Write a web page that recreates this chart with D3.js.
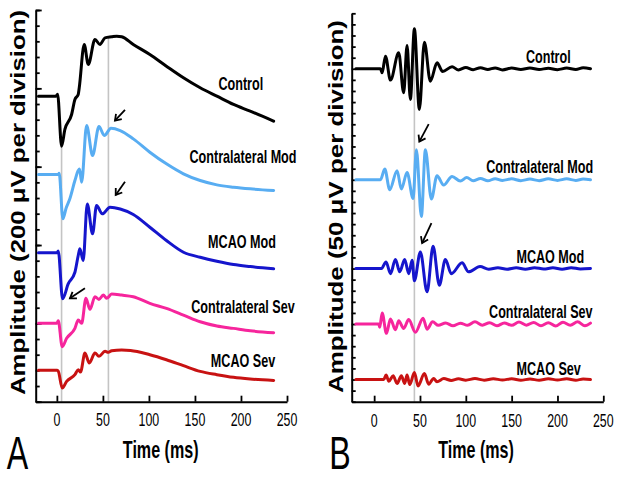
<!DOCTYPE html>
<html><head><meta charset="utf-8">
<script src="https://cdn.jsdelivr.net/npm/d3@7"></script>
<style>body{margin:0;background:#fff}svg{display:block}</style>
</head><body>
<svg id="chart" width="623" height="478"></svg>
<script>
// ---------------- DATA ----------------
const seriesNames = ["Control", "Contralateral Mod", "MCAO Mod", "Contralateral Sev", "MCAO Sev"];
const xTickValues = [0, 50, 100, 150, 200, 250];

// Panel A (µV, 200 µV per division), baseline offsets of each trace
const offsetsA = [3900, 2900, 1900, 1000, 400];
const tA_control = [-20, -1, 0.8, 5.1, 8.7, 16, 19.6, 23.2, 24.3, 29.7, 34.1, 41.4, 46.8, 52.3, 59.5, 65, 70.4, 83, 101, 119, 137.5, 155.7, 173.8, 191.9, 210, 235.5];
const vA_control = [0, 0, 25, -638, -425, -234, -42, 22, 107, 660, 405, 724, 660, 745, 758, 766, 758, 660, 532, 383, 235, 107, 0, -106, -191, -319];
const tA_contraMod = [-20, 1.4, 2.5, 6.5, 10, 14.1, 19.6, 23.2, 24.6, 26.9, 32.3, 38.8, 45.7, 51.5, 58.8, 68.8, 83, 101, 119, 137.5, 155.7, 173.8, 191.9, 210, 235.5];
const vA_contraMod = [0, 0, 15, -565, -430, -310, -77, 51, 70, -98, 625, 242, 612, 498, 591, 561, 455, 285, 136, 9, -77, -132, -162, -183, -204];
const tA_mcaoMod = [-20, 0.3, 1.5, 6.2, 12.3, 19.6, 23.2, 25, 28.6, 33, 38.8, 43.1, 49.3, 57.7, 68.8, 83, 101, 119, 137.5, 155.7, 173.8, 191.9, 210, 235.5];
const vA_mcaoMod = [0, 0, 25, -587, -396, -248, -34, 51, -98, 625, 243, 604, 498, 582, 560, 490, 327, 157, 8, -56, -107, -149, -175, -204];
const tA_contraSev = [-20, 0, 1.5, 5.8, 10.6, 19.6, 23.2, 26.9, 31.6, 35.9, 41.4, 45.7, 50.4, 54.1, 59.5, 70.4, 83, 101, 119, 137.5, 155.7, 173.8, 191.9, 210, 235.5];
const vA_contraSev = [0, 0, 34, -298, -191, -64, 42, 0, 319, 179, 340, 306, 361, 319, 374, 361, 340, 255, 191, 106, 20, -34, -64, -94, -120];
const tA_mcaoSev = [-20, 0, 1.5, 5.8, 10.6, 19.6, 23.2, 25.7, 30.5, 35.2, 41.4, 45.7, 52.3, 55.9, 59.5, 70.4, 80, 101, 119, 137.5, 155.7, 173.8, 191.9, 210, 235.5];
const vA_mcaoSev = [0, 0, -10, -225, -140, -55, 9, -21, 222, 94, 222, 179, 243, 230, 250, 260, 255, 200, 136, 60, -13, -55, -89, -110, -128];

// Panel B (µV, 50 µV per division)
const offsetsB = [1500, 1000, 600, 350, 100];
const tB_control = [-20, 6.9, 8.7, 12.3, 17.8, 26.8, 32.2, 35.9, 39.5, 43.9, 49.3, 54.8, 61.3, 68.6, 74.7, 85, 92, 100, 108, 116, 124, 132, 140, 150, 160, 170, 180, 190, 200, 210, 220, 228, 236];
const vB_control = [0, 0, -18, 57, -51, 72, -108, 105, -138, 180, -183, 120, -56, 27, -12, 9, -5, 6, -4, 5, -3, 4, -5, 3, -3, 4, -3, 2, -4, 3, -3, 5, 0];
const tB_contraMod = [-20, 6.9, 11.6, 17, 25, 29.7, 35.9, 42.5, 46.1, 51.5, 55.9, 62.4, 68.6, 75.8, 85, 94, 101, 108, 116, 124, 132, 140, 150, 160, 170, 180, 190, 200, 210, 220, 228, 236];
const vB_contraMod = [0, 0, 48, -45, 41, -42, 33, -84, 135, -166, 135, -87, 18, -24, 15, -6, 10, -4, 6, -5, 5, -3, 4, -4, 3, -4, 4, -3, 4, -3, 3, 0];
const tB_mcaoMod = [-20, 8, 13, 17.8, 23.2, 27.9, 33.3, 37.7, 41.4, 43.9, 50.4, 57.7, 64.3, 71.1, 77.7, 84.2, 95.9, 103, 115.5, 125, 135, 145, 155, 165, 175, 185, 195, 205, 215, 225, 236];
const vB_mcaoMod = [0, 0, 30, -23, 41, -15, 41, -23, 37, -55, 75, -105, 100, -75, 41, -23, 26, -15, 9, -3, 4, -3, 3, -3, 4, -2, 3, -3, 4, -2, 0];
const tB_contraSev = [-20, 5, 6.1, 8.7, 13.4, 17.8, 23.2, 26.8, 32.2, 37.7, 45, 53.4, 57.7, 63.8, 70, 78, 86, 94, 102, 110, 118, 126, 134, 142, 150, 158, 166, 174, 182, 190, 198, 206, 214, 222, 230, 236];
const vB_contraSev = [0, 0, -15, 50, -42, 23, -26, 15, -20, 20, -37, 26, -23, 10, -6, 5, -8, 4, -6, 10, -5, 6, -8, 5, -6, 9, -5, 7, -8, 6, -9, 8, -6, 10, -8, 4];
const tB_mcaoSev = [-20, 10.5, 13, 16, 20.7, 25, 29.7, 33.3, 35.9, 38.8, 43.9, 47.9, 54.8, 59.5, 64.9, 68.5, 76, 84, 92, 100, 110, 120, 130, 140, 150, 160, 170, 180, 190, 200, 210, 220, 228, 236];
const vB_mcaoSev = [0, 0, 20, -8, 17, -18, 17, -18, 20, -23, 32, -29, 27, -21, 5, -10, 4, -4, 3, -3, 4, -3, 3, -2, 3, -3, 2, -3, 3, -2, 3, -3, 2, 0];

// reference (gray) lines: time, top value (µV)
const markerTA = [5.1, 56];
const markerTopA = [3262, 4655];
const markerTB = [43.9];
const markerTopB = [1675];

// arrows: [tail t, tail µV, head t, head µV]
const arrowsA = [[74, 3724, 63.1, 3587], [74, 2808, 63.9, 2639], [30.5, 1448, 14.2, 1320]];
const arrowsB = [[59.5, 1251, 49.3, 1172], [62.5, 805, 52.3, 715]];

// ---------------- STYLE / LAYOUT ----------------
const colors = ["#000000", "#58adf2", "#1515cc", "#f6259c", "#c81212"];
const FONT = "'Liberation Sans', Arial, sans-serif";
const SX = 0.7; // horizontal squeeze of text in reference

const svg = d3.select("#chart");
svg.append("rect").attr("width", 623).attr("height", 478).attr("fill", "#fff");

function hText(x, y, str, size, weight) {
  svg.append("text")
    .attr("transform", `translate(${x},${y}) scale(${SX},1)`)
    .attr("text-anchor", "middle").attr("dy", "0.35em")
    .style("font-family", FONT).style("font-size", size + "px")
    .style("font-weight", weight).attr("fill", "#000").text(str);
}

function drawPanel(cfg) {
  const x = d3.scaleLinear().domain(cfg.xDomain).range(cfg.xRange);
  const y = d3.scaleLinear().domain(cfg.yDomain).range(cfg.yRange);
  const y0 = cfg.yRange[0];

  // gray reference lines
  cfg.markerT.forEach((t, i) => {
    svg.append("line").attr("x1", x(t)).attr("x2", x(t))
      .attr("y1", y(0)).attr("y2", y(cfg.markerTop[i]))
      .attr("stroke", "#c4c4c4").attr("stroke-width", 1.6);
  });

  // axes
  svg.append("g").attr("transform", `translate(0,${y0})`)
    .call(d3.axisBottom(x).tickValues(xTickValues).tickSize(-6).tickSizeOuter(0).tickFormat(""));
  svg.append("g").attr("transform", `translate(${cfg.xRange[0]},0)`)
    .call(d3.axisLeft(y).tickValues(d3.range(cfg.yDomain[0], cfg.yDomain[1] + 1, cfg.yStep)).tickSize(-4).tickSizeOuter(0).tickFormat(""));
  if (cfg.yMajor) {
    svg.append("g").attr("transform", `translate(${cfg.xRange[0]},0)`)
      .call(d3.axisLeft(y).tickValues(d3.range(cfg.yDomain[0], cfg.yDomain[1] + 1, cfg.yMajor)).tickSize(-6).tickSizeOuter(0).tickFormat(""))
      .select(".domain").remove();
  }
  svg.selectAll(".domain").attr("stroke", "#000").attr("stroke-width", 2);
  svg.selectAll(".tick line").attr("stroke", "#000").attr("stroke-width", 1.8);

  // tick labels
  xTickValues.forEach(v => hText(x(v), cfg.tickLabelY, String(v), 17.7, "normal"));

  // traces
  const line = d3.line().x(d => x(d[0])).y(d => y(d[1])).curve(d3.curveMonotoneX);
  cfg.traces.forEach((tr, i) => {
    const pts = tr.t.map((t, k) => [t, cfg.offsets[i] + tr.v[k]]);
    svg.append("path").attr("d", line(pts)).attr("fill", "none")
      .attr("stroke", colors[i]).attr("stroke-width", 3)
      .attr("stroke-linejoin", "round").attr("stroke-linecap", "round");
  });

  // arrows
  cfg.arrows.forEach(a => {
    const x1 = x(a[0]), y1 = y(a[1]), x2 = x(a[2]), y2 = y(a[3]);
    const ang = Math.atan2(y2 - y1, x2 - x1), L = 7, s = 0.6;
    svg.append("line").attr("x1", x1).attr("y1", y1).attr("x2", x2).attr("y2", y2)
      .attr("stroke", "#000").attr("stroke-width", 1.8);
    const hp = [[x2 - L * Math.cos(ang - s), y2 - L * Math.sin(ang - s)], [x2, y2], [x2 - L * Math.cos(ang + s), y2 - L * Math.sin(ang + s)]];
    svg.append("path").attr("d", d3.line()(hp)).attr("fill", "none")
      .attr("stroke", "#000").attr("stroke-width", 1.8).attr("stroke-linejoin", "miter");
  });

  // series labels
  seriesNames.forEach((n, i) => hText(cfg.labelPos[i][0], cfg.labelPos[i][1], n, 18, "bold"));

  // axis title
  hText(cfg.titleX, 449.5, "Time (ms)", 23, "bold");
  // panel letter
  hText(cfg.letterPos[0], cfg.letterPos[1], cfg.letter, 46, "normal");

  // y label
  svg.append("text")
    .attr("transform", `translate(${cfg.yLabel[0]},${cfg.yLabel[1]}) rotate(-90) scale(1,0.8)`)
    .attr("text-anchor", "middle")
    .attr("textLength", cfg.yLabel[2]).attr("lengthAdjust", "spacingAndGlyphs")
    .style("font-family", FONT).style("font-size", "26px").style("font-weight", "bold")
    .text(cfg.yText);
}

drawPanel({
  xDomain: [-23, 250], xRange: [35.7, 287],
  yDomain: [0, 5000], yRange: [401.7, 10], yStep: 200, yMajor: 1000,
  offsets: offsetsA,
  traces: [
    {t: tA_control, v: vA_control}, {t: tA_contraMod, v: vA_contraMod}, {t: tA_mcaoMod, v: vA_mcaoMod},
    {t: tA_contraSev, v: vA_contraSev}, {t: tA_mcaoSev, v: vA_mcaoSev}],
  markerT: markerTA, markerTop: markerTopA, arrows: arrowsA,
  labelPos: [[240.8, 84], [243, 156.7], [242, 241.5], [243, 307], [243, 360.5]],
  tickLabelY: 419.5, titleX: 160.7, letter: "A", letterPos: [17.5, 453],
  yLabel: [25, 202.5, 385], yText: "Amplitude (200 \u03bcV per division)"
});

drawPanel({
  xDomain: [-24.5, 250], xRange: [351.7, 603.3],
  yDomain: [0, 1750], yRange: [401.7, 13.3], yStep: 50, yMajor: null,
  offsets: offsetsB,
  traces: [
    {t: tB_control, v: vB_control}, {t: tB_contraMod, v: vB_contraMod}, {t: tB_mcaoMod, v: vB_mcaoMod},
    {t: tB_contraSev, v: vB_contraSev}, {t: tB_mcaoSev, v: vB_mcaoSev}],
  markerT: markerTB, markerTop: markerTopB, arrows: arrowsB,
  labelPos: [[548.3, 56.2], [539.7, 167], [550.3, 256.3], [540.8, 311.7], [548.7, 368.8]],
  tickLabelY: 420.5, titleX: 476, letter: "B", letterPos: [340, 453],
  yLabel: [343, 206.5, 373], yText: "Amplitude (50 \u03bcV per division)"
});
</script>
</body></html>
